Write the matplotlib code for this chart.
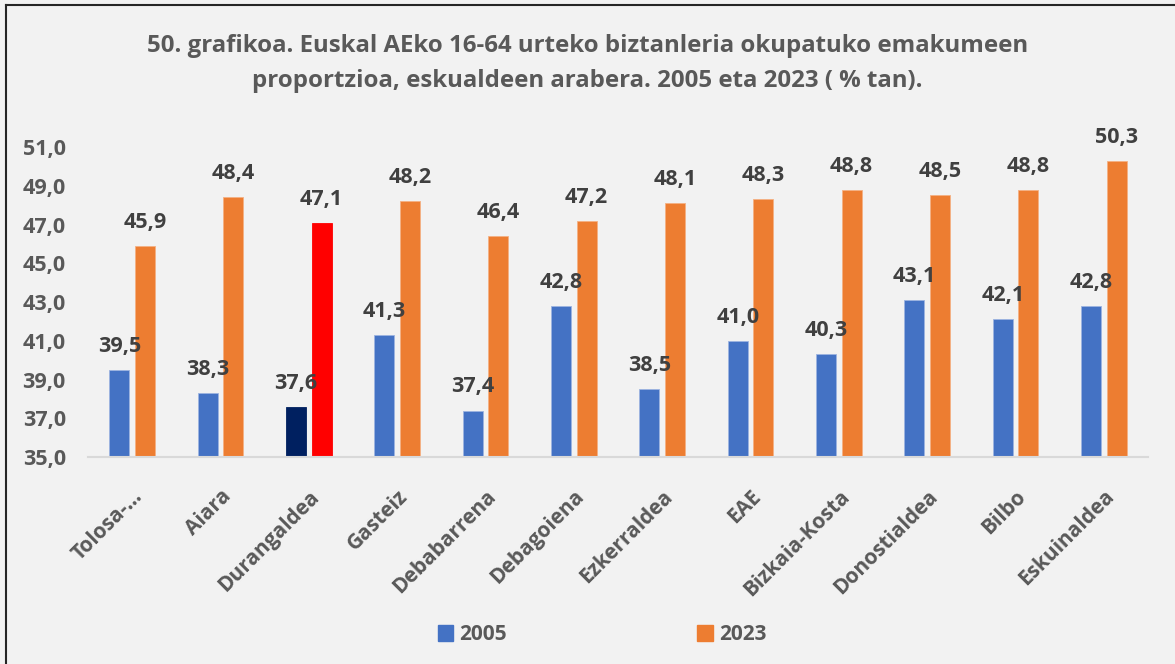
import matplotlib
matplotlib.use("Agg")
from matplotlib import pyplot as plt
from matplotlib.lines import Line2D
from matplotlib.patches import Patch
import numpy as np

eskualdeak = ["Tolosa-…", "Aiara", "Durangaldea", "Gasteiz", "Debabarrena", "Debagoiena",
              "Ezkerraldea", "EAE", "Bizkaia-Kosta", "Donostialdea", "Bilbo", "Eskuinaldea"]
urtea_2005 = [39.5, 38.3, 37.6, 41.3, 37.4, 42.8, 38.5, 41.0, 40.3, 43.1, 42.1, 42.8]
urtea_2023 = [45.9, 48.4, 47.1, 48.2, 46.4, 47.2, 48.1, 48.3, 48.8, 48.5, 48.8, 50.3]
y_ticks = [35, 37, 39, 41, 43, 45, 47, 49, 51]
nabarmendu = "Durangaldea"

blue, orange = "#4472C4", "#ED7D31"
navy, red = "#002060", "#FF0000"
bg = "#F2F2F2"
txt = "#595959"
lbl = "#404040"

plt.rcParams["font.family"] = ["Open Sans", "DejaVu Sans"]
plt.rcParams["font.weight"] = "bold"

fig = plt.figure(figsize=(11.75, 6.64), dpi=100, facecolor=bg)
ax = fig.add_axes([0.0749, 0.3117, 0.9021, 0.4669])
ax.set_facecolor(bg)

x = np.arange(len(eskualdeak))
w = 0.226
off = 0.144
c05 = [navy if e == nabarmendu else blue for e in eskualdeak]
c23 = [red if e == nabarmendu else orange for e in eskualdeak]
b1 = ax.bar(x - off, np.array(urtea_2005) - 35, w, bottom=35, color=c05,
            edgecolor="#9DB4E0", linewidth=0.6)
b2 = ax.bar(x + off, np.array(urtea_2023) - 35, w, bottom=35, color=c23,
            edgecolor="#F4B183", linewidth=0.6)
for b in (b1[2], b2[2]):
    b.set_edgecolor(b.get_facecolor())

for xs, vals in ((x - off, urtea_2005), (x + off, urtea_2023)):
    for xi, v in zip(xs, vals):
        ax.annotate(f"{v:.1f}".replace(".", ","), (xi, v), xytext=(0, 13),
                    textcoords="offset points", ha="center", va="baseline",
                    fontsize=15.5, fontweight="bold", color=lbl, clip_on=False)

ax.set_xlim(-0.5, len(eskualdeak) - 0.5)
ax.set_ylim(35, 51)
ax.set_yticks(y_ticks)
ax.set_yticklabels([f"{t:.1f}".replace(".", ",") for t in y_ticks])
ax.set_xticks(x)
ax.set_xticklabels(eskualdeak, rotation=45, ha="right", rotation_mode="anchor")
ax.tick_params(axis="both", length=0, labelcolor=txt)
ax.tick_params(axis="y", pad=16, labelsize=15.5)
ax.tick_params(axis="x", pad=21, labelsize=15)
for lab in ax.get_xticklabels() + ax.get_yticklabels():
    lab.set_fontweight("bold")
for s in ("top", "right", "left"):
    ax.spines[s].set_visible(False)
ax.spines["bottom"].set_color("#D9D9D9")
ax.spines["bottom"].set_linewidth(1.5)

fig.text(0.5, 0.93, "50. grafikoa. Euskal AEko 16-64 urteko biztanleria okupatuko emakumeen",
         ha="center", va="center", fontsize=17.3, fontweight="bold", color=txt)
fig.text(0.5, 0.878, "proportzioa, eskualdeen arabera. 2005 eta 2023 ( % tan).",
         ha="center", va="center", fontsize=17.3, fontweight="bold", color=txt)

# legend entries placed separately, as in the source layout
fig.legend(handles=[Patch(color=blue, label="2005")], loc="center",
           bbox_to_anchor=(0.402, 0.044), frameon=False, fontsize=15,
           handlelength=0.75, handleheight=0.75, handletextpad=0.3,
           labelcolor=txt)
fig.legend(handles=[Patch(color=orange, label="2023")], loc="center",
           bbox_to_anchor=(0.623, 0.044), frameon=False, fontsize=15,
           handlelength=0.75, handleheight=0.75, handletextpad=0.3,
           labelcolor=txt)

# frame lines on the left and top edge
fig.add_artist(Line2D([0.0055, 0.0055], [0, 0.993], color="#262626", lw=1.5,
                      transform=fig.transFigure))
fig.add_artist(Line2D([0.0055, 1.0], [0.993, 0.993], color="#262626", lw=1.5,
                      transform=fig.transFigure))

fig.savefig("out.png", dpi=100, facecolor=bg)
